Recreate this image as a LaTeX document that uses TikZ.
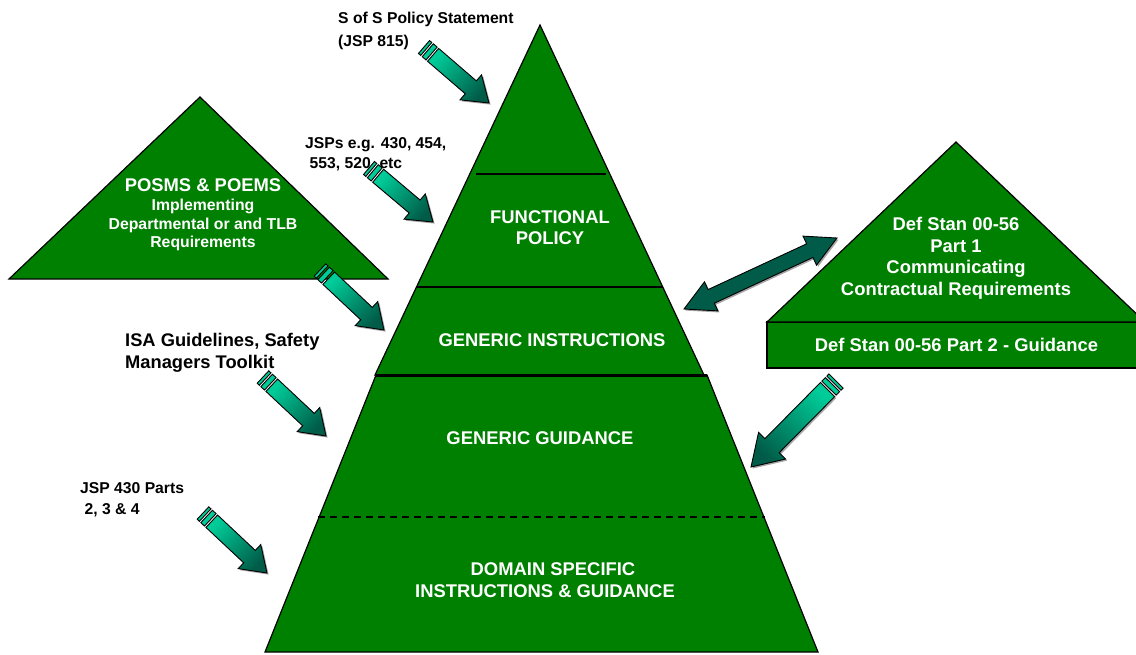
\documentclass[tikz,border=0pt]{standalone}
\usepackage{fontspec}
\setmainfont{Liberation Sans}
\usetikzlibrary{calc}

\definecolor{tiergreen}{RGB}{0,128,0}
\definecolor{arrowlight}{RGB}{0,204,153}
\definecolor{arrowdark}{RGB}{0,92,72}

\tikzset{
  tier/.style={fill=tiergreen, draw=black, line width=1.2pt, line join=miter},
  tierline/.style={draw=black, line width=1.3pt},
  tiertext/.style={text=white, font=\bfseries\fontsize{18.4}{21}\selectfont, align=center, inner sep=0pt},
  notetext/.style={text=black, font=\bfseries\fontsize{15.7}{20}\selectfont, align=left, inner sep=0pt, anchor=north west},
  stripe/.style={fill=arrowlight, draw=black, line width=0.9pt},
  arrowbody/.style={draw=black, line width=0.9pt, line join=miter},
}

% block arrow with two stripes at its tail: #1 tail, #2 tip,
% #3 half shaft width, #4 half head width, #5 head length
\newcommand\pointerarrow[5]{%
  \path let \p1=(#1), \p2=(#2) in \pgfextra{%
    \pgfmathsetmacro\arrang{atan2(\y2-\y1,\x2-\x1)}%
    \pgfmathsetmacro\arrlen{veclen(\x2-\x1,\y2-\y1)}%
    \global\let\arrang\arrang\global\let\arrlen\arrlen};
  \pgfmathsetmacro\headx{\arrlen-#5}%
  \pgfmathsetmacro\shadeang{\arrang-90}%
  \begin{scope}[shift={(#1)}, xshift=1.6pt, yshift=-1.6pt, rotate=\arrang]
    \fill[black!35] (12,-#3) -- (\headx,-#3) -- (\headx,-#4) -- (\arrlen,0)
      -- (\headx,#4) -- (\headx,#3) -- (12,#3) -- cycle;
  \end{scope}
  \begin{scope}[shift={(#1)}, rotate=\arrang]
    \draw[stripe] (0,-#3) rectangle (3,#3);
    \draw[stripe] (5,-#3) rectangle (10,#3);
    \shade[arrowbody, top color=arrowdark, bottom color=arrowlight, shading angle=\shadeang]
      (12,-#3) -- (\headx,-#3) -- (\headx,-#4) -- (\arrlen,0)
      -- (\headx,#4) -- (\headx,#3) -- (12,#3) -- cycle;
  \end{scope}
}

% two-headed block arrow between #1 and #2
\newcommand\twowayarrow[2]{%
  \path let \p1=(#1), \p2=(#2) in \pgfextra{%
    \pgfmathsetmacro\arrang{atan2(\y2-\y1,\x2-\x1)}%
    \pgfmathsetmacro\arrlen{veclen(\x2-\x1,\y2-\y1)}%
    \global\let\arrang\arrang\global\let\arrlen\arrlen};
  \pgfmathsetmacro\headx{\arrlen-30}%
  \pgfmathsetmacro\shadeang{\arrang-90}%
  \begin{scope}[shift={(#1)}, xshift=1.6pt, yshift=-1.6pt, rotate=\arrang]
    \fill[black!35] (0,0) -- (30,16) -- (30,7.5) -- (\headx,7.5) -- (\headx,16) -- (\arrlen,0)
      -- (\headx,-16) -- (\headx,-7.5) -- (30,-7.5) -- (30,-16) -- cycle;
  \end{scope}
  \begin{scope}[shift={(#1)}, rotate=\arrang]
    \shade[arrowbody, top color=arrowdark, middle color=arrowlight, bottom color=arrowdark, shading angle=\shadeang]
      (0,0) -- (30,16) -- (30,7.5) -- (\headx,7.5) -- (\headx,16) -- (\arrlen,0)
      -- (\headx,-16) -- (\headx,-7.5) -- (30,-7.5) -- (30,-16) -- cycle;
  \end{scope}
}

\begin{document}
\begin{tikzpicture}[x=1pt, y=-1pt]
\useasboundingbox (0,0) rectangle (1136,654);
\clip (0,0) rectangle (1136,654);

% ---- main pyramid: lower trapezoid and upper triangle
\coordinate (tl) at (376,375);
\coordinate (tr) at (707,375);
\coordinate (bl) at (265,652);
\coordinate (br) at (818,652);
\coordinate (apex) at (540,25);
\coordinate (ul) at (375,375);
\coordinate (ur) at (704,375);
\filldraw[tier] (tl) -- (tr) -- (br) -- (bl) -- cycle;
\filldraw[tier] (apex) -- (ur) -- (ul) -- cycle;
\draw[black, line width=3pt] (tl) -- (tr);

% tier dividers
\coordinate (d1l) at (476,174);
\coordinate (d1r) at (606,174);
\coordinate (d2l) at (417,287);
\coordinate (d2r) at (663,287);
\coordinate (d3l) at (318,517);
\coordinate (d3r) at (765,517);
\draw[tierline] (d1l) -- (d1r);
\draw[tierline] (d2l) -- (d2r);
\draw[black, line width=1.5pt, dash pattern=on 7pt off 5pt] (d3l) -- (d3r);

\node[tiertext, anchor=north] (functional) at (550,210.5) {FUNCTIONAL\\POLICY};
\node[tiertext] (instructions) at (552,340) {GENERIC INSTRUCTIONS};
\node[tiertext] (guidance) at (540,438) {GENERIC GUIDANCE};
\node[tiertext, anchor=north, font=\bfseries\fontsize{18.4}{22}\selectfont] (domain) at (545,562.4)
  {\hspace*{16pt}DOMAIN SPECIFIC\\INSTRUCTIONS \& GUIDANCE};

% ---- POSMS triangle
\coordinate (pa) at (200,97);
\coordinate (pl) at (9,279);
\coordinate (pr) at (388,279);
\filldraw[tier] (pa) -- (pr) -- (pl) -- cycle;
\node[tiertext, anchor=north, font=\bfseries\fontsize{15.8}{18.8}\selectfont] (posms) at (203,178.4)
  {{\fontsize{18.4}{18.8}\selectfont POSMS \& POEMS}\\Implementing\\Departmental or and TLB\\Requirements};

% ---- Def Stan triangle and box
\coordinate (da) at (956,142);
\coordinate (dl) at (767,322);
\coordinate (dr) at (1145,322);
\coordinate (dbl) at (767,368);
\coordinate (dbr) at (1145,368);
\filldraw[tier] (dl) -- (dr) -- (dbr) -- (dbl) -- cycle;
\filldraw[tier] (da) -- (dr) -- (dl) -- cycle;
\node[tiertext, anchor=north, font=\bfseries\fontsize{18.4}{21.7}\selectfont] (part1) at (956,217)
  {Def Stan 00-56\\Part 1\\Communicating\\Contractual Requirements};
\node[tiertext] (part2) at (956.5,345) {Def Stan 00-56 Part 2 - Guidance};

% ---- source notes
\node[notetext, font=\bfseries\fontsize{15.7}{23}\selectfont] (sos) at (338,12) {S of S Policy Statement\\(JSP 815)};
\node[notetext] (jsps) at (305,137) {JSPs e.g. 430, 454,\\\hspace*{4.5pt}553, 520\ \ etc};
\node[notetext, font=\bfseries\fontsize{18.3}{22}\selectfont] (isa) at (125,333) {ISA Guidelines, Safety\\Managers Toolkit};
\node[notetext, font=\bfseries\fontsize{15.7}{21}\selectfont] (jsp430) at (80,482) {JSP 430 Parts\\\hspace*{4.5pt}2, 3 \& 4};

% ---- arrows
\coordinate (a1s) at (424,47);  \coordinate (a1e) at (489,103);
\coordinate (a2s) at (369,168); \coordinate (a2e) at (433,222);
\coordinate (a3s) at (320,270); \coordinate (a3e) at (384,330);
\coordinate (a4s) at (263,377); \coordinate (a4e) at (326,436);
\coordinate (a5s) at (203,513); \coordinate (a5e) at (267,573);
\coordinate (a6s) at (836,381); \coordinate (a6e) at (751,467);
\coordinate (b1) at (684,309);  \coordinate (b2) at (837,238);

\pointerarrow{a1s}{a1e}{8.5}{16.5}{24}
\pointerarrow{a2s}{a2e}{8.5}{16.5}{24}
\pointerarrow{a3s}{a3e}{8.5}{16.5}{24}
\pointerarrow{a4s}{a4e}{8.5}{16.5}{24}
\pointerarrow{a5s}{a5e}{8.5}{16.5}{24}
\pointerarrow{a6s}{a6e}{10}{19}{30}
\twowayarrow{b1}{b2}
\end{tikzpicture}
\end{document}
